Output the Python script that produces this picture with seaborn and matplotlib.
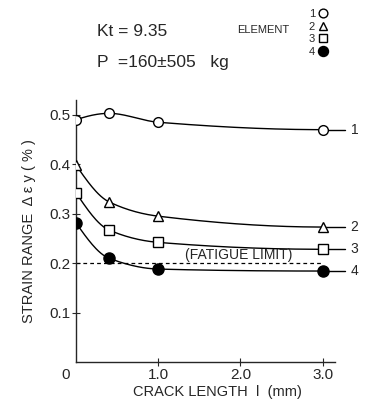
import numpy as np
import pandas as pd
import matplotlib
matplotlib.use("Agg")
import matplotlib.pyplot as plt
import seaborn as sns

# ---- data ----
crack_length = [0.0, 0.4, 1.0, 3.0]
elem1 = [0.490, 0.503, 0.485, 0.470]
elem2 = [0.398, 0.324, 0.295, 0.273]
elem3 = [0.342, 0.267, 0.242, 0.228]
elem4 = [0.281, 0.210, 0.188, 0.184]
element_labels = ["1", "2", "3", "4"]
fatigue_limit = 0.2
x_ticks = [1.0, 2.0, 3.0]
x_ticklabels = ["1.0", "2.0", "3.0"]
y_ticks = [0.1, 0.2, 0.3, 0.4, 0.5]
y_ticklabels = ["0.1", "0.2", "0.3", "0.4", "0.5"]

sns.set_style("ticks")
plt.rcParams['font.family'] = ['Liberation Sans', 'DejaVu Sans']

series = [elem1, elem2, elem3, elem4]
markers = ["o", "^", "s", "o"]
faces = ["white", "white", "white", "black"]
msizes = [7, 7, 6.5, 8]

rows = []
for lab, vals in zip(element_labels, series):
    for x, y in zip(crack_length, vals):
        rows.append({"element": lab, "l": x, "strain": y})
df = pd.DataFrame(rows)


def pchip(x, y, xs):
    x = np.asarray(x, float); y = np.asarray(y, float)
    h = np.diff(x); d = np.diff(y) / h
    n = len(x); m = np.zeros(n)
    for k in range(1, n - 1):
        if d[k - 1] * d[k] > 0:
            w1 = 2 * h[k] + h[k - 1]; w2 = h[k] + 2 * h[k - 1]
            m[k] = (w1 + w2) / (w1 / d[k - 1] + w2 / d[k])
    m[0] = ((2 * h[0] + h[1]) * d[0] - h[0] * d[1]) / (h[0] + h[1])
    if np.sign(m[0]) != np.sign(d[0]):
        m[0] = 0
    m[-1] = ((2 * h[-1] + h[-2]) * d[-1] - h[-1] * d[-2]) / (h[-1] + h[-2])
    if np.sign(m[-1]) != np.sign(d[-1]):
        m[-1] = 0
    out = np.empty_like(xs)
    for i, xv in enumerate(xs):
        k = min(np.searchsorted(x, xv, side='right') - 1, n - 2)
        t = (xv - x[k]) / h[k]
        h00 = 2 * t**3 - 3 * t**2 + 1; h10 = t**3 - 2 * t**2 + t
        h01 = -2 * t**3 + 3 * t**2; h11 = t**3 - t**2
        out[i] = h00 * y[k] + h10 * h[k] * m[k] + h01 * y[k + 1] + h11 * h[k] * m[k + 1]
    return out


fig = plt.figure(figsize=(3.73, 4.0), dpi=100)
ax = fig.add_axes([0.204, 0.095, 0.694, 0.655])

# fatigue limit
ax.plot([0, 2.98], [fatigue_limit, fatigue_limit], ls=(0, (3, 2.5)), color="black", lw=0.9)
ax.text(1.98, fatigue_limit + 0.002, "(FATIGUE LIMIT)", ha="center", va="bottom", fontsize=10)

xs = np.linspace(0, 3.0, 200)
handles = []
for lab, vals, mk, fc, ms in zip(element_labels, series, markers, faces, msizes):
    ax.plot(xs, pchip(crack_length, vals, xs), color="black", lw=1.0)
    sub = df[df.element == lab]
    sns.lineplot(data=sub, x="l", y="strain", ax=ax, marker=mk, markersize=ms,
                 markerfacecolor=fc, markeredgecolor="black", markeredgewidth=1.0,
                 linestyle="none", color="black", zorder=5, label=lab, legend=False)
    # tail line and end label to the right
    ax.plot([crack_length[-1], 3.27], [vals[-1], vals[-1]], color="black", lw=1.0,
            clip_on=False)
    ax.text(3.34, vals[-1], lab, ha="left", va="center", fontsize=10, clip_on=False)
    h, = ax.plot([], [], marker=mk, markersize=ms * 0.9, markerfacecolor=fc,
                 markeredgecolor="black", markeredgewidth=1.0, linestyle="none")
    handles.append(h)

ax.set_xlim(0, 3.15)
ax.set_ylim(0, 0.53)
sns.despine(ax=ax)
for s in ["left", "bottom"]:
    ax.spines[s].set_linewidth(1.0)
ax.set_xticks(x_ticks)
ax.set_xticklabels(x_ticklabels, fontsize=11)
ax.set_yticks(y_ticks)
ax.set_yticklabels(y_ticklabels, fontsize=11)
ax.tick_params(direction="inout", length=6, width=0.8, pad=1)
ax.text(-0.08, -0.012, "0", ha="right", va="top", fontsize=11)

ax.set_xlabel("CRACK LENGTH  l  (mm)", fontsize=10.5)
ax.xaxis.set_label_coords(0.545, -0.088)
ax.set_ylabel("STRAIN RANGE  \u0394 \u03b5 y ( % )", fontsize=10.5)
ax.yaxis.set_label_coords(-0.155, 0.5)

fig.text(0.26, 0.92, "Kt = 9.35", fontsize=12.5, va="center")
fig.text(0.26, 0.845, "P  =160\u00b1505   kg", fontsize=12.5, va="center")
fig.text(0.635, 0.925, "ELEMENT", fontsize=8, va="center")

fig.legend(handles, element_labels, loc="upper left", bbox_to_anchor=(0.828, 0.978),
           frameon=False, markerfirst=False, handlelength=0.8, handletextpad=0.3,
           labelspacing=0.25, fontsize=8, borderpad=0, borderaxespad=0)

fig.savefig("out.png", dpi=100)
